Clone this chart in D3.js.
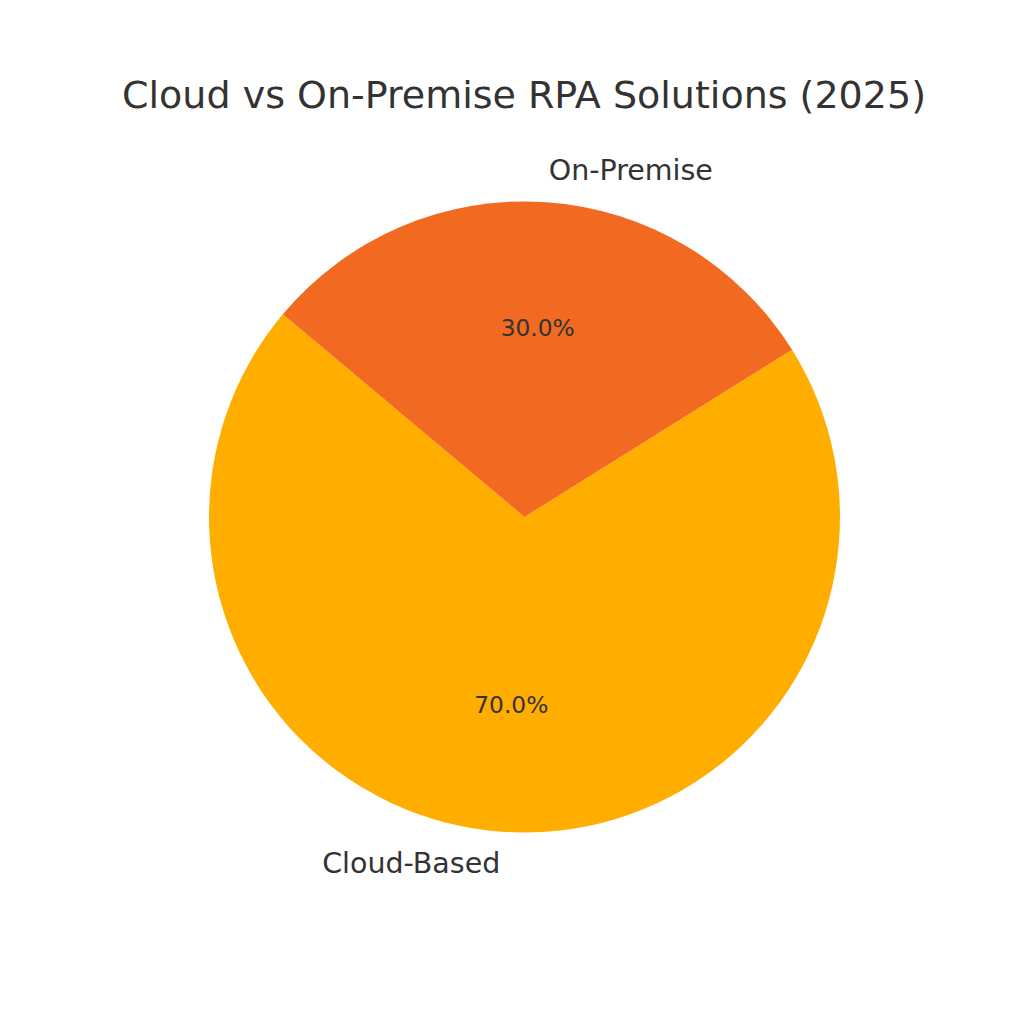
<!DOCTYPE html>
<html>
<head>
<meta charset="utf-8">
<script src="https://cdn.jsdelivr.net/npm/d3@7"></script>
<style>
  html, body { margin: 0; padding: 0; background: #fff; }
  svg { display: block; }
</style>
</head>
<body>
<svg id="chart" width="1024" height="1024"></svg>
<script>
const categories = ["Cloud-Based", "On-Premise"];
const values = [70, 30];
const colors = ["#FFAE00", "#F26A21"];
const title = "Cloud vs On-Premise RPA Solutions (2025)";

const svg = d3.select("#chart");
const font = "'DejaVu Sans', sans-serif";
const cx = 524.5, cy = 517, r = 315.5;
const startDeg = 140; // matplotlib startangle, counterclockwise

svg.append("text")
  .attr("x", 524).attr("y", 108)
  .attr("text-anchor", "middle")
  .attr("font-family", font).attr("font-size", 38)
  .attr("fill", "#333333")
  .text(title);

// matplotlib angles (deg, ccw from east) -> d3 angles (rad, cw from north)
const toD3 = deg => (90 - deg) * Math.PI / 180;

const pie = d3.pie().sort(null).value(d => d)
  .startAngle(toD3(startDeg))
  .endAngle(toD3(startDeg) - 2 * Math.PI);
const arcs = pie(values);
const arc = d3.arc().innerRadius(0).outerRadius(r);

const g = svg.append("g").attr("transform", `translate(${cx},${cy})`);
g.selectAll("path").data(arcs).enter().append("path")
  .attr("d", arc)
  .attr("fill", (d, i) => colors[i]);

const total = d3.sum(values);
arcs.forEach((d, i) => {
  const mid = (d.startAngle + d.endAngle) / 2;
  const sx = Math.sin(mid), sy = -Math.cos(mid);
  // label at 1.1 r
  g.append("text")
    .attr("x", 1.1 * r * sx).attr("y", 1.1 * r * sy)
    .attr("dy", "0.33em")
    .attr("text-anchor", sx > 0 ? "start" : "end")
    .attr("font-family", font).attr("font-size", 28.5)
    .attr("fill", "#333333")
    .text(categories[i]);
  // percentage at 0.6 r
  g.append("text")
    .attr("x", 0.6 * r * sx).attr("y", 0.6 * r * sy)
    .attr("dy", "0.32em")
    .attr("text-anchor", "middle")
    .attr("font-family", font).attr("font-size", 23.3)
    .attr("fill", "#333333")
    .text((values[i] / total * 100).toFixed(1) + "%");
});
</script>
</body>
</html>
